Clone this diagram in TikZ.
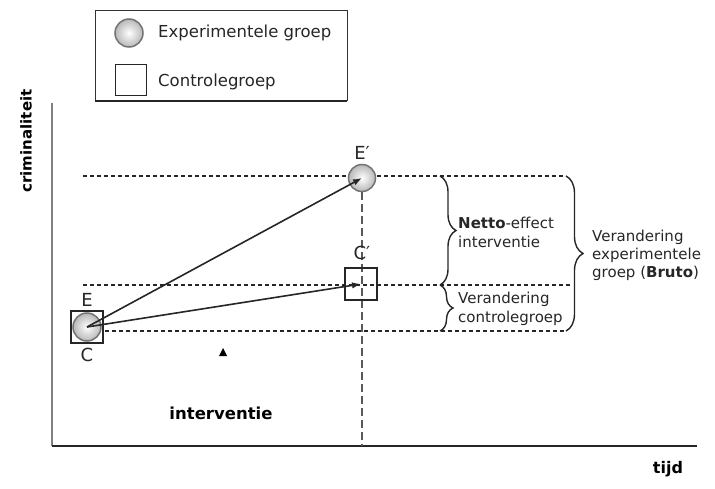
\documentclass[tikz,border=0pt]{standalone}
\usepackage{fontspec}
\setmainfont{DejaVu Sans}
\usetikzlibrary{arrows.meta, decorations.pathreplacing, positioning}

\begin{document}
\begin{tikzpicture}[x=1pt, y=-1pt,
        stip/.style={dash pattern=on 4pt off 3pt, line width=1.4pt, black!85},
        lstip/.style={dash pattern=on 8pt off 4pt, line width=1.3pt, black!65},
        bol/.style={circle, draw=black!55, line width=1.5pt, inner color=white, outer color=black!28, minimum size=28pt, inner sep=0pt},
        vak/.style={draw=black!85, line width=1.4pt, minimum size=32pt, inner sep=0pt},
        pijl/.style={line width=1.6pt, black!85, -{Latex[length=9pt,width=6.5pt]}},
        accolade/.style={decorate, decoration={brace, amplitude=#1}, line width=1.4pt, black!85},
        lbl/.style={font=\fontsize{18}{20}\selectfont, text=black!85},
        txt/.style={font=\fontsize{15}{19}\selectfont, align=left, anchor=west, inner sep=0pt, text=black!85}]
        \useasboundingbox (0,0) rectangle (715,489);

        %legenda
        \draw[line width=1pt, black!80] (95,11) rectangle (347,101);
        \draw[line width=2pt, black!85] (95,101) -- (347,101);
        \node[bol] (lbol) at (129,33) {};
        \node[vak, minimum size=31pt, line width=1.2pt] (lvak) at (131,80) {};
        \node[txt, font=\fontsize{16.5}{19}\selectfont] (ltxt1) at (158,33) {Experimentele groep};
        \node[txt, font=\fontsize{16.5}{19}\selectfont] (ltxt2) at (158,82) {Controlegroep};

        %assi
        \coordinate (o) at (52,446);
        \draw[line width=2pt, black!50] (o) -- (52,103);
        \draw[line width=2pt, black!85] (o) -- (697,446);
        \node[rotate=90, font=\bfseries\fontsize{15}{18}\selectfont] (yas) at (26,141) {criminaliteit};
        \node[font=\bfseries\fontsize{16}{18}\selectfont] (xas) at (668,469) {tijd};

        %livelli tratteggiati
        \draw[stip] (83,176) -- (566,176);
        \draw[stip] (83,285) -- (570,285);
        \draw[stip] (105,331) -- (566,331);
        \draw[lstip] (362,192) -- (362,446);

        %punti E, C, E', C'
        \node[vak] (c0) at (87,327) {};
        \node[bol] (e0) at (87,327) {};
        \node[lbl] (e0l) at (87,300) {E};
        \node[lbl] (c0l) at (87,355) {C};
        \node[bol, minimum size=27pt] (e1) at (362,178) {};
        \node[lbl] (e1l) at (362,153) {E′};
        \node[vak] (c1) at (361,284) {};
        \node[lbl] (c1l) at (362,253) {C′};

        %frecce
        \draw[pijl] (e0.center) -- (e1.center);
        \draw[pijl] (e0.center) -- (c1.center);

        %interventie
        \fill (219,356) -- (227,356) -- (223,348) -- cycle;
        \node[font=\bfseries\fontsize{16.5}{19}\selectfont] (int) at (221,413) {interventie};

        %graffe e testi
        \draw[accolade=16pt] (440,176) -- (440,285);
        \draw[accolade=13pt] (440,285) -- (440,331);
        \draw[accolade=17pt] (566,176) -- (566,331);
        \node[txt] (netto) at (458,232) {\textbf{Netto}-effect\\interventie};
        \node[txt] (vcg) at (458,309) {Verandering\\controlegroep};
        \node[txt, font=\fontsize{15}{18}\selectfont] (veg) at (592,255) {Verandering\\experimentele\\groep (\textbf{Bruto})};
\end{tikzpicture}
\end{document}
